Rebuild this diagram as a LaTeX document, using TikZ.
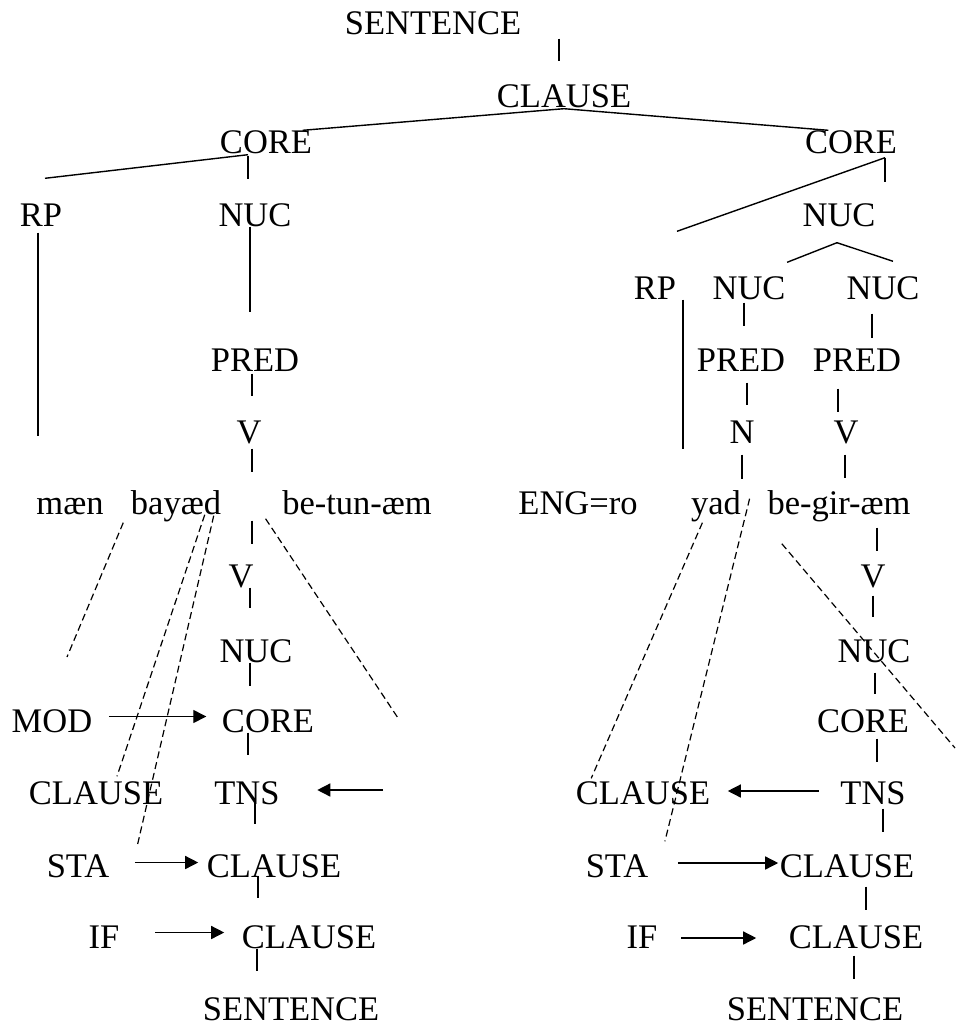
\documentclass[tikz,border=0pt]{standalone}
\usepackage{fontspec}
\setmainfont{Liberation Serif}
\usetikzlibrary{arrows.meta}

\begin{document}
\begin{tikzpicture}[x=1pt, y=-1pt, line width=1.4pt,
    every node/.style={inner sep=0pt, anchor=base, text height=23pt, text depth=0pt, font=\fontsize{34.5pt}{40pt}\selectfont},
    link/.style={dash pattern=on 7pt off 4pt, line width=1.2pt},
    arr/.style={-{Triangle[length=13pt, width=13pt]}}]
    \useasboundingbox (0, 0) rectangle (955, 1027);
    \node (Sentence) at (433, 35) {SENTENCE};
    \node (Clause) at (564, 108) {CLAUSE};
    \node (Left Core) at (266, 154) {CORE};
    \node (Right Core) at (851, 154) {CORE};
    \node (Left RP) at (41, 226) {RP};
    \node (Left Nuc) at (255, 226) {NUC};
    \node (Right Nuc) at (839, 226) {NUC};
    \node (Right RP) at (655, 299) {RP};
    \node (Nuc A) at (749, 299) {NUC};
    \node (Nuc B) at (883, 299) {NUC};
    \node (Left Pred) at (255, 371) {PRED};
    \node (Pred A) at (741, 371) {PRED};
    \node (Pred B) at (857, 371) {PRED};
    \node (Left V) at (249, 443) {V};
    \node (Right N) at (742, 443) {N};
    \node (Right V) at (846, 443) {V};
    \node (Maen) at (70, 514) {mæn};
    \node (Bayaed) at (176, 514) {bayæd};
    \node (Betunaem) at (357, 514) {be-tun-æm};
    \node (Eng) at (578, 514) {ENG=ro};
    \node (Yad) at (716, 514) {yad};
    \node (Begiraem) at (839, 514) {be-gir-æm};
    \node (Low Left V) at (241, 587) {V};
    \node (Low Left Nuc) at (256, 662) {NUC};
    \node (Left Mod) at (52, 732) {MOD};
    \node (Low Left Core) at (268, 732) {CORE};
    \node (Left Clause) at (96, 804) {CLAUSE};
    \node (Left Tns) at (247, 804) {TNS};
    \node (Left Sta) at (78, 877) {STA};
    \node (Left Sta Clause) at (274, 877) {CLAUSE};
    \node (Left If) at (104, 948) {IF};
    \node (Left If Clause) at (309, 948) {CLAUSE};
    \node (Left Sentence) at (291, 1020) {SENTENCE};
    \node (Low Right V) at (873, 587) {V};
    \node (Low Right Nuc) at (874, 662) {NUC};
    \node (Low Right Core) at (863, 732) {CORE};
    \node (Right Tns) at (873, 804) {TNS};
    \node (Right Clause) at (643, 804) {CLAUSE};
    \node (Right Sta) at (617, 877) {STA};
    \node (Right Sta Clause) at (847, 877) {CLAUSE};
    \node (Right If) at (642, 948) {IF};
    \node (Right If Clause) at (856, 948) {CLAUSE};
    \node (Right Sentence) at (815, 1020) {SENTENCE};
    \coordinate (Maen Link) at (67, 657);
    \coordinate (Tun Link) at (398, 718);
    \coordinate (Gir Link) at (955, 748);
    \coordinate (Tns Feed) at (383, 790);
    \draw[shorten <=3pt, shorten >=23pt] ([xshift=-5pt]Clause.north |- Sentence.south) -- ([xshift=-5pt]Clause.north);
    \draw (Clause.south) -- ([xshift=-10pt]Left Core.north east);
    \draw (Clause.south) -- ([xshift=24pt]Right Core.north west);
    \draw ([xshift=-18pt]Left Core.south) -- ([xshift=4pt, yshift=24pt]Left RP.north);
    \draw[shorten <=1pt, shorten >=23pt] ([xshift=-7pt]Left Nuc.north |- Left Core.south) -- ([xshift=-7pt]Left Nuc.north);
    \draw ([xshift=34pt, yshift=-3pt]Right Core.south) -- ([xshift=22pt, yshift=44pt]Right RP.north);
    \draw[shorten <=3pt, shorten >=20pt] ([xshift=46pt]Right Nuc.north |- Right Core.south) -- ([xshift=46pt]Right Nuc.north);
    \draw ([xshift=-2pt, yshift=-16pt]Right Nuc.south) -- ([xshift=1pt, yshift=13pt]Nuc A.north east);
    \draw ([xshift=-2pt, yshift=-16pt]Right Nuc.south) -- ([xshift=10pt, yshift=14pt]Nuc B.north);
    \draw[shorten <=6pt, shorten >=54pt] ([xshift=-3pt]Left RP.south) -- ([xshift=-3pt]Left RP.south |- Maen.north);
    \draw[shorten >=35pt] ([xshift=-5pt]Left Pred.north |- Left Nuc.south) -- ([xshift=-5pt]Left Pred.north);
    \draw[shorten <=2pt, shorten >=23pt] ([xshift=3pt]Left V.north |- Left Pred.south) -- ([xshift=3pt]Left V.north);
    \draw[shorten <=5pt, shorten >=18pt] ([xshift=3pt]Left V.south) -- ([xshift=3pt]Left V.south |- Betunaem.north);
    \draw[shorten >=41pt] ([xshift=6pt]Right RP.south east) -- ([xshift=6pt]Right RP.south east |- Eng.north);
    \draw[shorten <=3pt, shorten >=21pt] ([xshift=3pt]Pred A.north |- Nuc A.south) -- ([xshift=3pt]Pred A.north);
    \draw[shorten <=14pt, shorten >=9pt] ([xshift=15pt]Pred B.north |- Nuc B.south) -- ([xshift=15pt]Pred B.north);
    \draw[shorten <=11pt, shorten >=14pt] ([xshift=5pt]Right N.north |- Pred A.south) -- ([xshift=5pt]Right N.north);
    \draw[shorten <=17pt, shorten >=7pt] ([xshift=-8pt]Right V.north |- Pred B.south) -- ([xshift=-8pt]Right V.north);
    \draw[shorten <=11pt, shorten >=11pt] (Right N.south) -- (Right N.south |- Yad.north);
    \draw[shorten <=11pt, shorten >=12pt] ([xshift=-1pt]Right V.south) -- ([xshift=-1pt]Right V.south |- Begiraem.north);
    \draw[shorten <=6pt, shorten >=19pt] ([xshift=11pt]Low Left V.north |- Betunaem.south) -- ([xshift=11pt]Low Left V.north);
    \draw[shorten >=30pt] ([xshift=-6pt]Low Left Nuc.north |- Low Left V.south) -- ([xshift=-6pt]Low Left Nuc.north);
    \draw[shorten >=22pt] ([xshift=-18pt]Low Left Core.north |- Low Left Nuc.south) -- ([xshift=-18pt]Low Left Core.north);
    \draw[shorten >=25pt] ([xshift=1pt]Left Tns.north |- Low Left Core.south) -- ([xshift=1pt]Left Tns.north);
    \draw[shorten <=-6pt, shorten >=29pt] ([xshift=-19pt]Left Sta Clause.north |- Left Tns.south) -- ([xshift=-19pt]Left Sta Clause.north);
    \draw[shorten <=-2pt, shorten >=26pt] ([xshift=-16pt]Left Sta Clause.south) -- ([xshift=-16pt]Left Sta Clause.south |- Left If Clause.north);
    \draw[shorten >=25pt] ([xshift=-34pt]Left Sentence.north |- Left If Clause.south) -- ([xshift=-34pt]Left Sentence.north);
    \draw[shorten <=13pt, shorten >=12pt] ([xshift=4pt]Low Right V.north |- Begiraem.south) -- ([xshift=4pt]Low Right V.north);
    \draw[shorten <=8pt, shorten >=21pt] ([xshift=-1pt]Low Right Nuc.north |- Low Right V.south) -- ([xshift=-1pt]Low Right Nuc.north);
    \draw[shorten <=10pt, shorten >=14pt] ([xshift=12pt]Low Right Core.north |- Low Right Nuc.south) -- ([xshift=12pt]Low Right Core.north);
    \draw[shorten <=6pt, shorten >=18pt] ([xshift=4pt]Right Tns.north |- Low Right Core.south) -- ([xshift=4pt]Right Tns.north);
    \draw[shorten <=4pt, shorten >=21pt] ([xshift=10pt]Right Tns.south) -- ([xshift=10pt]Right Tns.south |- Right Sta Clause.north);
    \draw[shorten <=9pt, shorten >=14pt] ([xshift=10pt]Right If Clause.north |- Right Sta Clause.south) -- ([xshift=10pt]Right If Clause.north);
    \draw[shorten <=7pt, shorten >=17pt] ([xshift=39pt]Right Sentence.north |- Right If Clause.south) -- ([xshift=39pt]Right Sentence.north);
    \draw[link] ([xshift=-7pt, yshift=-8pt]Bayaed.south west) -- (Maen Link);
    \draw[link] ([xshift=-17pt]Bayaed.south east) -- ([xshift=21pt, yshift=4pt]Left Clause.north);
    \draw[link] ([xshift=-8pt, yshift=-1pt]Bayaed.south east) -- ([xshift=27pt, yshift=6pt]Left Sta.north east);
    \draw[link] ([xshift=-16pt, yshift=-4pt]Betunaem.south west) -- (Tun Link);
    \draw[link] ([xshift=12pt, yshift=-8pt]Yad.south west) -- ([xshift=16pt, yshift=2pt]Right Clause.north west);
    \draw[link] ([xshift=8pt, yshift=16pt]Yad.south east) -- ([xshift=16pt, yshift=12pt]Right Sta.north east);
    \draw[link] ([xshift=15pt, yshift=-29pt]Begiraem.south west) -- (Gir Link);
    \draw[arr, shorten <=16pt, shorten >=15pt] ([yshift=4pt]Left Mod.east) -- ([yshift=4pt]Low Left Core.west);
    \draw[arr, shorten >=37pt] (Tns Feed) -- ([yshift=2.5pt]Left Tns.east);
    \draw[arr, shorten <=25pt, shorten >=8pt] ([yshift=3pt]Left Sta.east) -- ([yshift=3pt]Left Sta Clause.west);
    \draw[arr, shorten <=35pt, shorten >=17pt] ([yshift=4pt]Left If.east) -- ([yshift=4pt]Left If Clause.west);
    \draw[arr, shorten <=21pt, shorten >=17pt] ([yshift=1.5pt]Right Tns.west) -- ([yshift=1.5pt]Right Clause.east);
    \draw[arr, shorten <=29pt, shorten >=1pt] ([yshift=2.5pt]Right Sta.east) -- ([yshift=2.5pt]Right Sta Clause.west);
    \draw[arr, shorten <=23pt, shorten >=32pt] ([yshift=-1.5pt]Right If.east) -- ([yshift=-1.5pt]Right If Clause.west);
\end{tikzpicture}
\end{document}
